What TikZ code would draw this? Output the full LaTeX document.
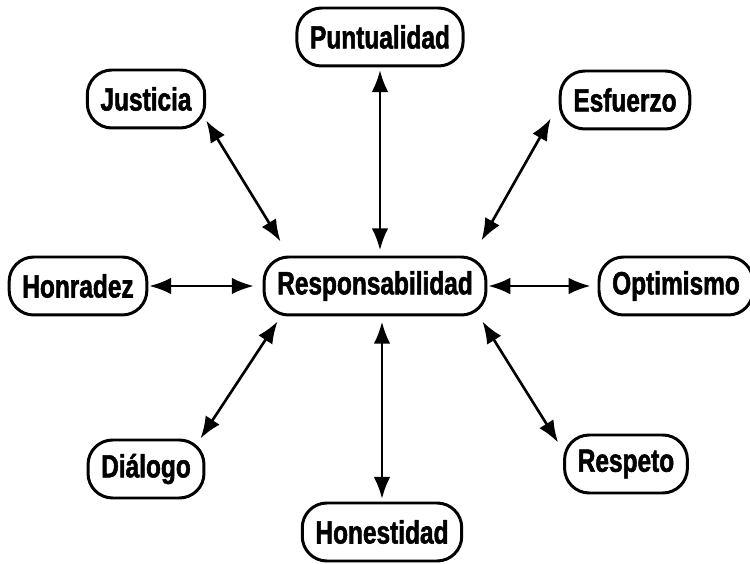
\documentclass[tikz,border=0pt]{standalone}
\usepackage{fontspec}
\newfontfamily\valuefont[FakeStretch=0.76,FakeBold=1.6]{Liberation Sans}
\usetikzlibrary{positioning,arrows.meta}

\begin{document}
\begin{tikzpicture}[
    value/.style={draw, line width=1.7pt, rounded corners=14pt, minimum height=33pt,
      inner xsep=7.5pt, font=\valuefont\bfseries\fontsize{18.3}{20}\selectfont},
    link/.style={line width=1.5pt, {Latex[length=12.5pt,width=9.5pt]}-{Latex[length=12.5pt,width=9.5pt]}},
    on grid]
  \useasboundingbox (0,0) rectangle (15,11.28);
    \node[value] (resp) at (7.5,5.56) {Responsabilidad};
    \node[value] (punt) [above right=4.98cm and 0.1cm of resp] {Puntualidad};
    \node[value] (just) [above left=3.74cm and 4.58cm of resp] {Justicia};
    \node[value] (esf) [above right=3.72cm and 5cm of resp] {Esfuerzo};
    \node[value] (honr) [left=5.94cm of resp] {Honradez};
    \node[value] (opt) [right=6.02cm of resp] {Optimismo};
    \node[value] (dial) [below left=3.66cm and 4.58cm of resp] {Diálogo};
    \node[value] (resq) [below right=3.56cm and 5.02cm of resp] {Respeto};
    \node[value] (hone) [below right=4.92cm and 0.14cm of resp] {Honestidad};

    \draw[link, shorten <=1.5pt, shorten >=3pt] (punt.south) -- (punt.south |- resp.north);
    \draw[link, shorten <=1.5pt, shorten >=3pt] (hone.north) -- (hone.north |- resp.south);
    \draw[link] ([shift={(0,0.18)}]just.south east) -- ([shift={(0.36,0.28)}]resp.north west);
    \draw[link] ([shift={(-0.16,0.24)}]esf.south west) -- ([shift={(-0.12,0.3)}]resp.north east);
    \draw[link] ([shift={(-0.1,0)}]dial.north east) -- ([shift={(0.3,-0.1)}]resp.south west);
    \draw[link] ([shift={(-0.1,-0.18)}]resq.north west) -- ([shift={(-0.1,-0.1)}]resp.south east);
    \draw[link, shorten <=0.5pt, shorten >=5pt] (honr.east) -- (resp.west);
    \draw[link, shorten <=0.5pt, shorten >=4pt] (resp.east) -- (opt.west);
\end{tikzpicture}
\end{document}
